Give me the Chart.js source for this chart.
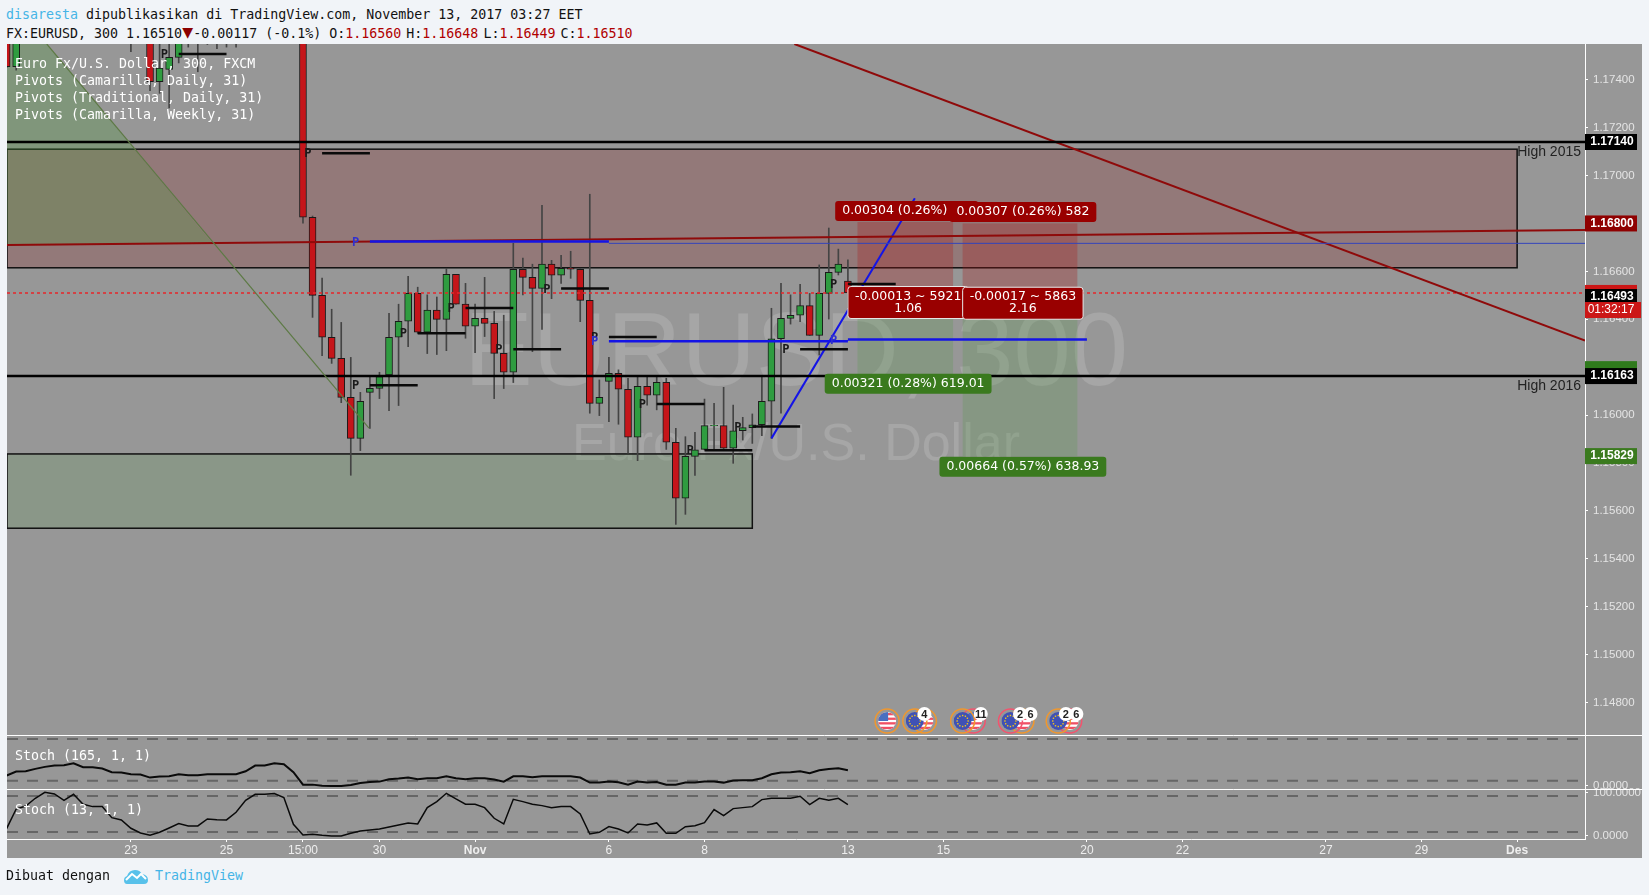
<!DOCTYPE html>
<html>
<head>
<meta charset="utf-8">
<title>EURUSD 300</title>
<script src="https://cdn.jsdelivr.net/npm/chart.js@4/dist/chart.umd.min.js"></script>
<style>
    html, body { margin: 0; padding: 0; background: #f1f4f8; width: 1649px; height: 895px; overflow: hidden; }
    body { font-family: 'DejaVu Sans Mono', monospace; font-size: 13.3px; color: #111; }
    .txt { position: absolute; white-space: pre; line-height: 16px; }
    .cyan { color: #45b4e6; }
    .red { color: #b00000; }
    .tri { display: inline-block; width: 11px; color: #8b0000; font-size: 18px; text-align: center; line-height: 14px; }
    .kv { margin-left: -3px; }
    .leg { color: #fff; }
    #chart { position: absolute; left: 7px; top: 44px; background: #979797; }
</style>
</head>
<body>
<canvas id="chart" width="1635" height="814"></canvas>

<div class="txt" style="left:6px;top:7px"><span class="cyan">disaresta</span> dipublikasikan di TradingView.com, November 13, 2017 03:27 EET</div>
<div class="txt" style="left:6px;top:25px">FX:EURUSD, 300 1.16510<span class="tri">▼</span>-0.00117 (-0.1%) O:<span class="red">1.16560</span> <span class="kv">H:</span><span class="red">1.16648</span> <span class="kv">L:</span><span class="red">1.16449</span> <span class="kv">C:</span><span class="red">1.16510</span></div>

<div class="txt leg" style="left:15px;top:56px">Euro Fx/U.S. Dollar, 300, FXCM</div>
<div class="txt leg" style="left:15px;top:73px">Pivots (Camarilla, Daily, 31)</div>
<div class="txt leg" style="left:15px;top:90px">Pivots (Traditional, Daily, 31)</div>
<div class="txt leg" style="left:15px;top:107px">Pivots (Camarilla, Weekly, 31)</div>
<div class="txt leg" style="left:15px;top:748px">Stoch (165, 1, 1)</div>
<div class="txt leg" style="left:15px;top:802px">Stoch (13, 1, 1)</div>

<div class="txt" style="left:6px;top:868px">Dibuat dengan</div>
<svg style="position:absolute;left:124px;top:868px" width="24" height="16" viewBox="0 0 24 16">
    <path d="M3 16 Q0 16 0 12 Q0 9 3 8 Q5 2 11 2 Q16 2 18 6 Q24 7 24 12 Q24 16 20 16 Z" fill="#58c1ea"/>
    <path d="M2 12 L8 6 L13 10 L17 6 L22 11" fill="none" stroke="#fff" stroke-width="2"/>
</svg>
<div class="txt cyan" style="left:155px;top:868px">TradingView</div>

<script>
// bar numbers: 0 is the 15:00 candle, one step is one 300 minute bar
const candleX = [-31, -30, -18, -16, -15, -14, -13, -12, -11, -10, -9, -8, -7,
    0, 1, 2, 3, 4, 5, 6, 7, 8, 9, 10, 11, 12, 13, 14, 15, 16, 17, 18, 19, 20, 21, 22, 23, 24, 25, 26, 27, 28,
    29, 30, 31, 32, 33, 34, 35, 36, 37, 38, 39, 40, 41, 42, 43, 44, 45, 46, 47, 48, 49, 50, 51, 52, 53, 54, 55, 56, 57];
const opens = [1.17650, 1.17454, 1.17640, 1.17650, 1.17392, 1.17443, 1.17493, 1.17600, 1.17620, 1.17610, 1.17620, 1.17610, 1.17620,
    1.17700, 1.16826, 1.16500, 1.16325, 1.16237, 1.16074, 1.15903, 1.16095, 1.16112, 1.16168, 1.16325, 1.16392, 1.16508, 1.16346, 1.16438, 1.16400, 1.16588, 1.16463, 1.16371, 1.16404, 1.16383, 1.16258, 1.16179, 1.16609, 1.16575, 1.16529, 1.16630, 1.16584, 1.16613,
    1.16609, 1.16479, 1.16049, 1.16141, 1.16175, 1.16108, 1.15908, 1.16120, 1.16083, 1.16137, 1.15887, 1.15653, 1.15828, 1.15857, 1.15956, 1.15956, 1.15862, 1.15935, 1.15948, 1.15960, 1.16058, 1.16319, 1.16404, 1.16417, 1.16457, 1.16333, 1.16508, 1.16596, 1.16560];
const closes = [1.17454, 1.17650, 1.17620, 1.17392, 1.17448, 1.17493, 1.17600, 1.17620, 1.17600, 1.17630, 1.17600, 1.17630, 1.17640,
    1.16826, 1.16500, 1.16325, 1.16237, 1.16074, 1.15903, 1.16058, 1.16112, 1.16161, 1.16325, 1.16392, 1.16508, 1.16346, 1.16438, 1.16400, 1.16588, 1.16463, 1.16371, 1.16404, 1.16383, 1.16258, 1.16179, 1.16609, 1.16575, 1.16529, 1.16630, 1.16584, 1.16613, 1.16609,
    1.16479, 1.16049, 1.16074, 1.16175, 1.16108, 1.15908, 1.16120, 1.16083, 1.16137, 1.15887, 1.15653, 1.15828, 1.15855, 1.15956, 1.15957, 1.15862, 1.15935, 1.15948, 1.15960, 1.16058, 1.16319, 1.16404, 1.16417, 1.16457, 1.16333, 1.16508, 1.16596, 1.16630, 1.16510];
const highs = [1.17700, 1.17700, 1.17680, 1.17700, 1.17550, 1.17570, 1.17650, 1.17650, 1.17650, 1.17650, 1.17650, 1.17650, 1.17650,
    1.17750, 1.16831, 1.16572, 1.16442, 1.16387, 1.16241, 1.16095, 1.16161, 1.16179, 1.16425, 1.16463, 1.16579, 1.16534, 1.16502, 1.16493, 1.16613, 1.16588, 1.16550, 1.16463, 1.16575, 1.16433, 1.16417, 1.16717, 1.16655, 1.16630, 1.16876, 1.16646, 1.16667, 1.16684,
    1.16613, 1.16922, 1.16147, 1.16241, 1.16189, 1.16154, 1.16161, 1.16161, 1.16161, 1.16154, 1.15945, 1.15910, 1.15928, 1.16067, 1.16049, 1.16116, 1.16042, 1.15991, 1.16005, 1.16161, 1.16446, 1.16550, 1.16502, 1.16546, 1.16508, 1.16627, 1.16781, 1.16693, 1.16648];
const lows = [1.17450, 1.17440, 1.17517, 1.17354, 1.17343, 1.17282, 1.17470, 1.17536, 1.17433, 1.17547, 1.17530, 1.17536, 1.17536,
    1.16801, 1.16408, 1.16248, 1.16216, 1.16052, 1.15749, 1.15852, 1.15945, 1.16069, 1.16019, 1.16040, 1.16286, 1.16341, 1.16257, 1.16253, 1.16269, 1.16463, 1.16321, 1.16261, 1.16328, 1.16069, 1.16111, 1.16136, 1.16502, 1.16265, 1.16358, 1.16486, 1.16550, 1.16571,
    1.16390, 1.16008, 1.15998, 1.15973, 1.15962, 1.15841, 1.15810, 1.16042, 1.16022, 1.15857, 1.15544, 1.15586, 1.15748, 1.15855, 1.15855, 1.15860, 1.15799, 1.15896, 1.15882, 1.15914, 1.15903, 1.16008, 1.16380, 1.16390, 1.16333, 1.16251, 1.16401, 1.16585, 1.16449];

// stochastics, first value belongs to bar -31
const stochFirstBar = -31;
const stochSlow = [20.7, 28.7, 29.3, 34, 38, 40.7, 41.3, 45.3, 37.3, 37.3, 34.7, 27.3, 26.7, 23.3, 22.7, 16.7, 18.7, 19.3, 23.3, 21.3, 21.3, 23.3, 23.3, 23.3, 23.3, 29.3, 40.7, 40.7, 45.3, 43.3, 27.3,
    2.7, 2.7, 0.7, 0, 0, 2, 6, 8, 8.7, 13.3, 14.7, 16.7, 13.3, 15.3, 15.3, 19.3,
    15.3, 13.3, 15.3, 15.3, 12.7, 8.7, 19.3, 19.3, 17.3, 19.3, 19.3, 19.3, 19.3, 16.7, 6.7, 6.7, 8.7, 7.3, 2.7, 8.7, 6.7, 8, 2.7, 2.7, 6.7, 6.7, 8.7, 8.7, 6.7, 10.7, 11.3, 11.3, 15.3, 23.3, 26.7, 27.3, 29.3, 25.3, 31.3, 34, 35.3, 31.3];
const stochFast = [17, 62, 69, 86.7, 100.4, 96.6, 82, 95.8, 72.9, 67.5, 67.5, 42.2, 36.9, 17.7, 7, 1.6, 8.5, 18.5, 28.4, 23.1, 23.1, 39.2, 37.6, 36.9, 54.5, 82, 95.8, 95.8, 97.4, 88.2, 26.9,
    2.4, 3.9, 1.6, 0, 0, 6.2, 11.6, 13.9, 16.2, 20.8, 25.4, 30, 27.7, 65.2, 79, 98.1,
    85.1, 72.9, 72.9, 65.2, 40.7, 27.7, 84.4, 79, 72.9, 69.8, 65.2, 67.5, 67.5, 50.7, 4.7, 8.5, 21.5, 16.2, 7, 27.7, 25.4, 30, 6.2, 6.2, 21.5, 23.8, 30.7, 60.6, 46.8, 62.9, 65.2, 67.5, 83.6, 86.7, 86.7, 86.7, 91.3, 72.1, 86.7, 82, 86.7, 72.1];

// axes
const xMin = -30.96, xMax = 134.1;
const yMin = 1.14665, yMax = 1.17549;
const priceTicks = [1.174, 1.172, 1.17, 1.168, 1.166, 1.164, 1.162, 1.16, 1.158, 1.156, 1.154, 1.152, 1.15, 1.148];
const xTickBars = [-18, -8, 0, 8, 18, 32, 42, 57, 67, 82, 92, 107, 117, 127];
const xTickLabels = ['23', '25', '15:00', '30', 'Nov', '6', '8', '13', '15', '20', '22', '27', '29', 'Des'];
const monthTicks = ['Nov', 'Des'];

// pivots: start bar, end bar, level
const pivotStart = [-13, 2, 7, 12, 17, 22, 27, 32, 37, 42, 47, 52, 57];
const pivotEnd = [-8, 7, 12, 17, 22, 27, 32, 37, 42, 47, 52, 57, 62];
const pivotLevel = [1.17507, 1.17093, 1.16125, 1.16342, 1.16447, 1.16275, 1.16529, 1.16326, 1.16047, 1.15853, 1.15953, 1.16275, 1.16547];
const weeklyStart = [7, 32, 57];
const weeklyEnd = [32, 57, 82];
const weeklyLevel = [1.16725, 1.16308, 1.16316];

// drawings
const highLevels = [1.1714, 1.16163];
const highNames = ['High 2015', 'High 2016'];
const lastPrice = 1.1651;
const slopeRedX = [xMin, xMax], slopeRedY = [1.1671, 1.16773];
const fallRedX = [51.4, xMax], fallRedY = [1.17549, 1.16311];
const thinBlueX = [32, xMax], thinBlueY = [1.16717, 1.16717];
const blueTrendX = [49, 64], blueTrendY = [1.15903, 1.16905];
const oliveLineX = [-26.8, 6.9], oliveLineY = [1.17549, 1.15946];
const triangleX = [xMin, -26.8, -9.47, xMin], triangleY = [1.17549, 1.17549, 1.16716, 1.1671];
const redZone = [xMin, 127, 1.1711, 1.16615];
const greenZone = [xMin, 47, 1.15838, 1.15528];
const posA = [58, 68, 1.16806, 1.16513, 1.16168];
const posB = [69, 81, 1.168, 1.16493, 1.15829];

// stoch guide lines
const slowGuides = [93.4, 10.6];
const fastGuides = [92, 9.2];

const bubbleText = ['0.00304 (0.26%)', '0.00307 (0.26%) 582', '-0.00013 ~ 5921\n1.06', '-0.00017 ~ 5863\n2.16', '0.00321 (0.28%) 619.01', '0.00664 (0.57%) 638.93'];
const bubbleBar = [61.9, 75.3, 63.3, 75.3, 63.3, 75.3];
const bubblePrice = [1.16852, 1.16848, 1.1647, 1.16467, 1.16131, 1.15785];

const tagPrice = [1.1714, 1.168, 1.1651, 1.16493, 1.16192, 1.16163, 1.15829];
const tagText = ['1.17140', '1.16800', '', '1.16493', '', '1.16163', '1.15829'];
const tagColor = ['#000', '#8f0000', '#cc1717', '#000', '#2f7a1c', '#000', '#3a7a1e'];

// economic events along the bottom of the price pane, US first so the EU flag lies on top
const flagBar = [61.1, 65, 64, 70.1, 69, 75.2, 74, 80.2, 79];
const flagKind = ['us', 'us', 'eu', 'us', 'eu', 'us', 'eu', 'us', 'eu'];
const flagRing = ['#f0972e', '#f0972e', '#f0972e', '#f2546e', '#f0972e', '#f0972e', '#f2546e', '#f2546e', '#f0972e'];
const badgeBar = [65, 70.9, 75, 76.1, 79.8, 80.9];
const badgeText = ['4', '11', '2', '6', '2', '6'];

const UP = '#2f9c40';
const DOWN = '#c5151a';
const BG = '#979797';
const AXIS_FONT = "'Liberation Sans', Arial, sans-serif";

function segments(starts, ends, levels) {
    const pts = [];
    starts.forEach((s, k) => {
        pts.push({ x: s, y: levels[k] }, { x: ends[k], y: levels[k] }, { x: ends[k], y: null });
    });
    return pts;
}

function pairs(xs, ys) {
    return xs.map((x, k) => ({ x: x, y: ys[k] }));
}

function lineSet(data, color, width, axis, dash) {
    return {
        type: 'line', data: data, borderColor: color, borderWidth: width, yAxisID: axis || 'y',
        borderDash: dash || [], pointRadius: 0, tension: 0, spanGaps: false, order: 1, borderCapStyle: 'butt'
    };
}

function flat(level, color, width, dash) {
    return lineSet(pairs([xMin, xMax], [level, level]), color, width, 'y', dash);
}

function guide(level, axis) {
    return lineSet(pairs([xMin, 133.4], [level, level]), '#666', 2, axis, [11, 9]);
}

function rect(ctx, sx, sy, box, fill, stroke) {
    const x = sx.getPixelForValue(box[0]), x2 = sx.getPixelForValue(box[1]);
    const y = sy.getPixelForValue(box[2]), y2 = sy.getPixelForValue(box[3]);
    ctx.fillStyle = fill;
    ctx.fillRect(x, y, x2 - x, y2 - y);
    if (stroke) {
        ctx.strokeStyle = stroke;
        ctx.lineWidth = 1.5;
        ctx.strokeRect(x, y, x2 - x, y2 - y);
    }
}

function drawFlag(ctx, x, y, kind, ring) {
    ctx.save();
    ctx.beginPath();
    ctx.arc(x, y, 9, 0, Math.PI * 2);
    ctx.clip();
    if (kind === 'eu') {
        ctx.fillStyle = '#3f51b5';
        ctx.fillRect(x - 9, y - 9, 18, 18);
        ctx.fillStyle = '#f5c518';
        for (let a = 0; a < 12; a++) {
            ctx.fillRect(x + Math.cos(a * Math.PI / 6) * 5.5 - 0.7, y + Math.sin(a * Math.PI / 6) * 5.5 - 0.7, 1.4, 1.4);
        }
    } else {
        ctx.fillStyle = '#fff';
        ctx.fillRect(x - 9, y - 9, 18, 18);
        ctx.fillStyle = '#ef5064';
        for (let r = 0; r < 4; r++) ctx.fillRect(x - 9, y - 8 + r * 4.6, 18, 2.3);
        ctx.fillStyle = '#4a6fc0';
        ctx.fillRect(x - 9, y - 9, 10, 9);
    }
    ctx.restore();
    ctx.beginPath();
    ctx.arc(x, y, 12, 0, Math.PI * 2);
    ctx.strokeStyle = ring;
    ctx.lineWidth = 1.5;
    ctx.stroke();
}

function drawBubble(ctx, k, sx, sy) {
    const lines = bubbleText[k].split('\n');
    const two = lines.length > 1;
    ctx.font = "12.5px 'DejaVu Sans', sans-serif";
    const w = Math.max.apply(null, lines.map(l => ctx.measureText(l).width));
    const cx = sx.getPixelForValue(bubbleBar[k]);
    const cy = sy.getPixelForValue(bubblePrice[k]);
    const h = two ? 32 : 20;
    const left = cx - w / 2 - 7;
    const right = cx + w / 2 + (k === 0 ? 31 : 7);
    ctx.beginPath();
    ctx.roundRect(left, cy - h / 2, right - left, h, 3);
    ctx.fillStyle = k >= 4 ? '#3a7a1e' : '#990000';
    ctx.fill();
    if (two) {
        ctx.strokeStyle = '#e8e8e8';
        ctx.lineWidth = 1;
        ctx.stroke();
    }
    ctx.fillStyle = '#fff';
    ctx.textAlign = 'center';
    ctx.textBaseline = 'middle';
    lines.forEach((l, i) => ctx.fillText(l, cx, cy + (two ? (i ? 6 : -6) : 0)));
}

const overlay = {
    id: 'overlay',
    beforeDatasetsDraw(chart) {
        const ctx = chart.ctx, sx = chart.scales.x, sy = chart.scales.y;
        ctx.save();
        ctx.beginPath();
        ctx.rect(sx.left, sy.top, sx.right - sx.left, sy.bottom - sy.top);
        ctx.clip();

        // watermark
        const mid = (sx.left + sx.right) / 2;
        ctx.fillStyle = 'rgba(255,255,255,0.14)';
        ctx.textAlign = 'center';
        ctx.textBaseline = 'middle';
        ctx.font = '103px ' + AXIS_FONT;
        ctx.fillText('EURUSD, 300', mid, 313);
        ctx.font = '52px ' + AXIS_FONT;
        ctx.fillText('Euro Fx/U.S. Dollar', mid, 402);

        // zones
        rect(ctx, sx, sy, redZone, 'rgba(140,60,60,0.32)', '#111');
        rect(ctx, sx, sy, greenZone, 'rgba(90,150,80,0.22)', '#111');

        ctx.beginPath();
        triangleX.forEach((x, k) => ctx.lineTo(sx.getPixelForValue(x), sy.getPixelForValue(triangleY[k])));
        ctx.closePath();
        ctx.fillStyle = 'rgba(75,150,60,0.3)';
        ctx.fill();

        // position boxes
        [posA, posB].forEach(p => {
            rect(ctx, sx, sy, [p[0], p[1], p[2], p[3]], 'rgba(165,25,25,0.3)');
            rect(ctx, sx, sy, [p[0], p[1], p[3], p[4]], 'rgba(90,150,80,0.28)');
        });
        ctx.restore();
    },
    afterDatasetsDraw(chart) {
        const ctx = chart.ctx, sx = chart.scales.x, sy = chart.scales.y;
        ctx.save();
        ctx.beginPath();
        ctx.rect(sx.left, sy.top, sx.right - sx.left, sy.bottom - sy.top);
        ctx.clip();

        // pivot letters
        ctx.textAlign = 'center';
        ctx.textBaseline = 'middle';
        ctx.font = "bold 12px 'DejaVu Sans Mono', monospace";
        ctx.fillStyle = '#1a1a1a';
        pivotStart.forEach((s, k) => ctx.fillText('P', sx.getPixelForValue(s - 1.5), sy.getPixelForValue(pivotLevel[k]) + 1));
        ctx.fillStyle = '#3030d0';
        weeklyStart.forEach((s, k) => ctx.fillText('P', sx.getPixelForValue(s - 1.5), sy.getPixelForValue(weeklyLevel[k]) + 1));

        // names on the high lines
        ctx.font = '14px ' + AXIS_FONT;
        ctx.fillStyle = '#222';
        ctx.textAlign = 'right';
        highLevels.forEach((lvl, k) => ctx.fillText(highNames[k], sx.right - 4, sy.getPixelForValue(lvl) + 10));

        // events
        const fy = sy.bottom - 14;
        flagBar.forEach((b, k) => drawFlag(ctx, sx.getPixelForValue(b), fy, flagKind[k], flagRing[k]));
        ctx.font = 'bold 11px ' + AXIS_FONT;
        ctx.textAlign = 'center';
        badgeBar.forEach((b, k) => {
            const x = sx.getPixelForValue(b);
            ctx.beginPath();
            ctx.arc(x, fy - 7, 7, 0, Math.PI * 2);
            ctx.fillStyle = '#fff';
            ctx.fill();
            ctx.fillStyle = '#222';
            ctx.fillText(badgeText[k], x, fy - 6.5);
        });

        bubbleText.forEach((t, k) => drawBubble(ctx, k, sx, sy));
        ctx.restore();
    },
    afterDraw(chart) {
        const ctx = chart.ctx, sx = chart.scales.x, sy = chart.scales.y, s3 = chart.scales.y3;
        ctx.save();

        // hide the tick text that runs past the bottom of the stoch pane
        ctx.fillStyle = BG;
        ctx.fillRect(sx.right + 1, s3.bottom, chart.width - sx.right, chart.height - s3.bottom);

        // pane separators run over the whole width
        ctx.strokeStyle = '#fff';
        ctx.lineWidth = 1;
        [sy.bottom, chart.scales.y2.bottom].forEach(y => {
            const py = Math.round(y) + 0.5;
            ctx.beginPath();
            ctx.moveTo(0, py);
            ctx.lineTo(chart.width, py);
            ctx.stroke();
        });

        // price tags on the axis
        ctx.textAlign = 'center';
        ctx.textBaseline = 'middle';
        ctx.font = 'bold 12px ' + AXIS_FONT;
        tagPrice.forEach((p, k) => {
            const y = sy.getPixelForValue(p);
            ctx.fillStyle = tagColor[k];
            ctx.fillRect(sx.right, y - 8, 52, 16);
            ctx.fillStyle = '#fff';
            if (tagText[k]) ctx.fillText(tagText[k], sx.right + 27, y);
        });
        const ty = sy.getPixelForValue(1.16493) + 13;
        ctx.fillStyle = '#cc1717';
        ctx.fillRect(sx.right, ty - 8, 56, 16);
        ctx.fillStyle = '#fff';
        ctx.font = '12px ' + AXIS_FONT;
        ctx.fillText('01:32:17', sx.right + 26, ty);
        ctx.restore();
    }
};

function noPadding(scale) {
    scale.paddingTop = 0;
    scale.paddingBottom = 0;
    scale.paddingLeft = 0;
    scale.paddingRight = 0;
}

function paneScale(min, max, weight, ticks, digits) {
    return {
        type: 'linear', position: 'right', stack: 'panes', stackWeight: weight, min: min, max: max,
        grid: { drawOnChartArea: false, drawTicks: true, tickLength: 3, tickColor: '#fff' },
        border: { color: '#fff', width: 1 },
        afterBuildTicks: scale => { scale.ticks = ticks.map(v => ({ value: v })); },
        afterFit: scale => { scale.width = 57; noPadding(scale); },
        ticks: {
            color: '#e4e4e4', padding: 5, autoSkip: false, font: { family: AXIS_FONT, size: 11.5 },
            callback: v => Number(v).toFixed(digits)
        }
    };
}

new Chart(document.getElementById('chart').getContext('2d'), {
    type: 'bar',
    data: {
        datasets: [
            lineSet(pairs(oliveLineX, oliveLineY), '#5d7a45', 1.2),
            flat(highLevels[0], '#000', 2.5),
            flat(highLevels[1], '#000', 2.5),
            lineSet(segments(pivotStart, pivotEnd, pivotLevel), '#0a0a0a', 2.5),
            lineSet(segments(weeklyStart, weeklyEnd, weeklyLevel), '#1414e6', 2.5),
            lineSet(pairs(thinBlueX, thinBlueY), '#3344bb', 1),
            lineSet(pairs(slopeRedX, slopeRedY), '#8f0a0a', 2),
            lineSet(pairs(fallRedX, fallRedY), '#8f0a0a', 2),
            lineSet(pairs(blueTrendX, blueTrendY), '#1414e6', 2),
            flat(lastPrice, '#e8262a', 1.5, [3, 3]),
            {
                type: 'bar', order: 2, yAxisID: 'y', data: candleX.map((x, k) => ({ x: x, y: [opens[k], closes[k]] })),
                backgroundColor: candleX.map((x, k) => closes[k] >= opens[k] ? UP : DOWN),
                borderColor: '#1a1a1a', borderWidth: 1, borderSkipped: false, barThickness: 7, grouped: false
            },
            {
                type: 'bar', order: 3, yAxisID: 'y', data: candleX.map((x, k) => ({ x: x, y: [lows[k], highs[k]] })),
                backgroundColor: '#444', borderWidth: 0, barThickness: 1, grouped: false
            },
            lineSet(pairs(stochSlow.map((v, k) => stochFirstBar + k), stochSlow), '#0a0a0a', 2, 'y2'),
            guide(slowGuides[0], 'y2'),
            guide(slowGuides[1], 'y2'),
            lineSet(pairs(stochFast.map((v, k) => stochFirstBar + k), stochFast), '#0a0a0a', 1.5, 'y3'),
            guide(fastGuides[0], 'y3'),
            guide(fastGuides[1], 'y3')
        ]
    },
    options: {
        responsive: false,
        animation: false,
        events: [],
        parsing: { xAxisKey: 'x', yAxisKey: 'y' },
        layout: { padding: 0 },
        plugins: { legend: { display: false }, tooltip: { enabled: false } },
        scales: {
            x: {
                type: 'linear', min: xMin, max: xMax, offset: false, position: 'bottom',
                grid: { drawOnChartArea: false, offset: false, drawTicks: true, tickLength: 3, tickColor: '#fff' },
                border: { color: '#fff', width: 1 },
                afterBuildTicks: scale => { scale.ticks = xTickBars.map(v => ({ value: v })); },
                afterFit: scale => { scale.height = 19; noPadding(scale); },
                ticks: {
                    color: '#eee', padding: 1, autoSkip: false, maxRotation: 0,
                    font: ctx => ({ family: AXIS_FONT, size: 12, weight: monthTicks.includes(xTickLabels[xTickBars.indexOf(ctx.tick && ctx.tick.value)]) ? 'bold' : 'normal' }),
                    callback: v => xTickLabels[xTickBars.indexOf(v)]
                }
            },
            y: paneScale(yMin, yMax, 691, priceTicks, 5),
            y2: paneScale(-6, 101.4, 54, [0], 4),
            y3: paneScale(-6.9, 108, 50, [0, 100], 4)
        }
    },
    plugins: [overlay]
});
</script>
</body>
</html>
